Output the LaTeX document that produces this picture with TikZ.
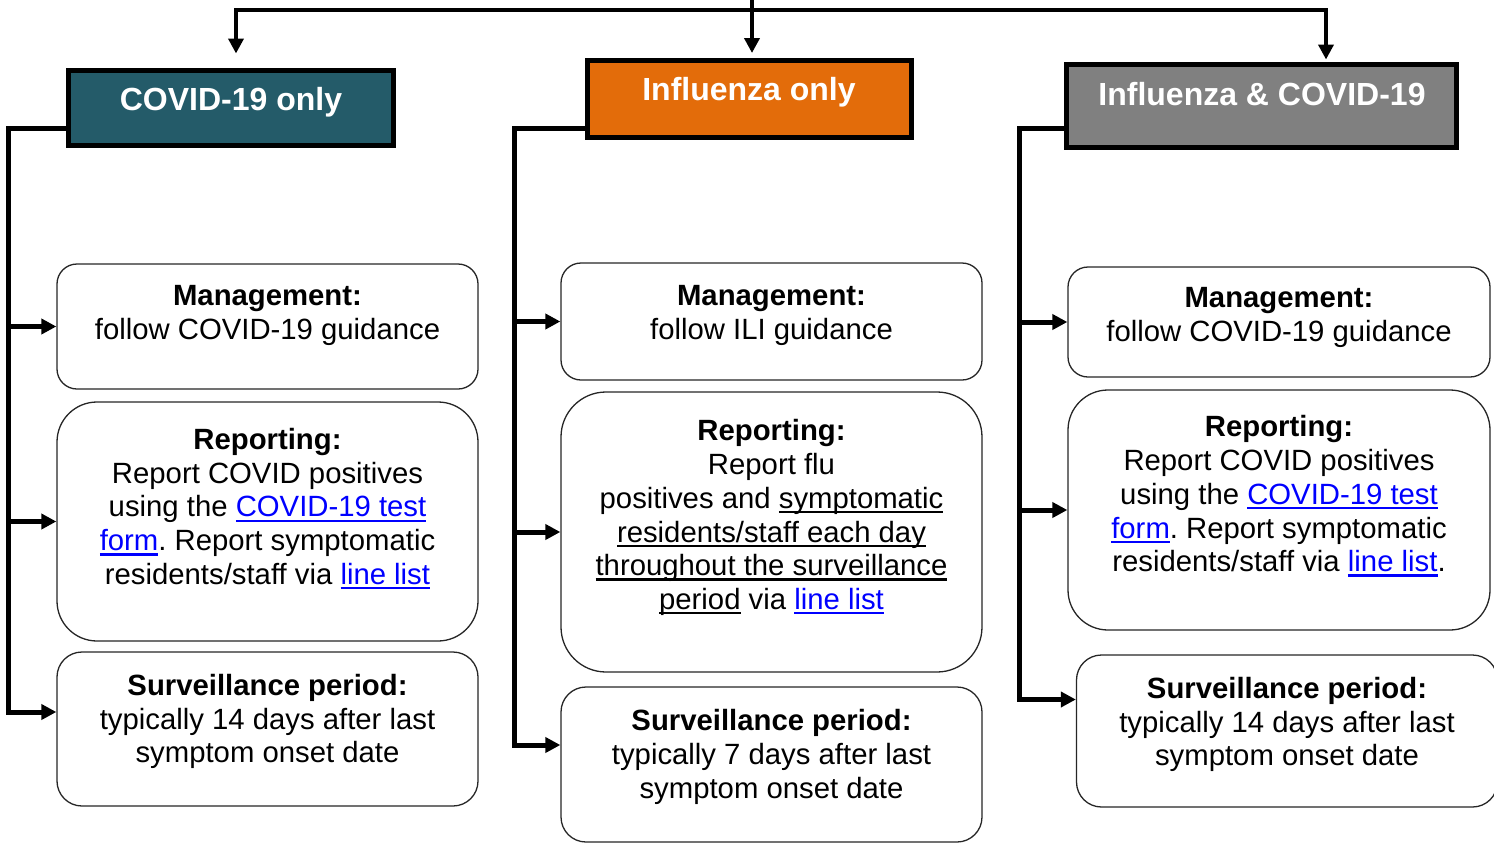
\documentclass[tikz,border=0pt]{standalone}
\usepackage{fontspec}
\setmainfont{Liberation Sans}
\usetikzlibrary{arrows.meta}
\definecolor{hteal}{HTML}{245B69}
\definecolor{horange}{HTML}{E36C0A}
\definecolor{hgray}{HTML}{808080}
\definecolor{linkblue}{HTML}{0000FF}
\newcommand{\uln}[1]{\setbox0\hbox{#1}\rlap{\rule[-5pt]{\wd0}{2.3pt}}\box0\relax}
\newcommand{\lnk}[1]{\textcolor{linkblue}{\uln{#1}}}
\frenchspacing
\begin{document}
\begin{tikzpicture}[x=1pt,y=-1pt,
  hdrbox/.style={rectangle, draw=black, line width=5pt, inner sep=0pt},
  hdrtext/.style={text=white, font=\fontsize{32}{38}\selectfont\bfseries, anchor=base, inner sep=0pt},
  infobox/.style={rectangle, draw=black!85, line width=1.3pt, fill=white, inner sep=0pt, minimum width=421pt},
  infotext/.style={font=\fontsize{29.3}{33.7}\selectfont\frenchspacing, align=center, anchor=north, inner sep=0pt},
  trunk/.style={line width=5pt, line join=miter},
  feed/.style={line width=4pt, line join=miter},
  arr/.style={-{Triangle[width=15pt,length=15pt]}}
]
\useasboundingbox (0,0) rectangle (1494,846);

% header boxes
\node[hdrbox, fill=hteal, minimum width=325pt, minimum height=75pt] (hdr1) at (231,108) {};
\node[hdrtext] (hdr1t) at (231,110) {COVID-19 only};
\node[hdrbox, fill=horange, minimum width=324pt, minimum height=77pt] (hdr2) at (749.5,99) {};
\node[hdrtext] (hdr2t) at (749,100) {Influenza only};
\node[hdrbox, fill=hgray, minimum width=390pt, minimum height=83pt] (hdr3) at (1261.5,106) {};
\node[hdrtext] (hdr3t) at (1262,105) {Influenza \& COVID-19};

% info boxes
\node[infobox, minimum height=125pt, rounded corners=20pt] (mg1) at (267.5,326.5) {};
\node[infobox, minimum height=239pt, rounded corners=40pt] (rp1) at (267.5,521.5) {};
\node[infobox, minimum height=154pt, rounded corners=25pt] (sv1) at (267.5,729) {};
\node[infobox, minimum height=117pt, rounded corners=20pt] (mg2) at (771.5,321.5) {};
\node[infobox, minimum height=280pt, rounded corners=45pt] (rp2) at (771.5,532) {};
\node[infobox, minimum height=155pt, rounded corners=25pt] (sv2) at (771.5,764.5) {};
\node[infobox, minimum width=422pt, minimum height=110pt, rounded corners=20pt] (mg3) at (1279,322) {};
\node[infobox, minimum width=422pt, minimum height=240pt, rounded corners=40pt] (rp3) at (1279,510) {};
\node[infobox, minimum height=152pt, rounded corners=25pt] (sv3) at (1287,731) {};

% texts
\node[infotext] (mg1t) at (267.5,285) {\textbf{Management:}\\follow COVID-19 guidance};
\node[infotext] (rp1t) at (267.5,428) {\textbf{Reporting:}\\Report COVID positives\\using the \lnk{COVID-19 test}\\\lnk{form}. Report symptomatic\\residents/staff via \lnk{line list}};
\node[infotext] (sv1t) at (267.5,674) {\textbf{Surveillance period:}\\typically 14 days after last\\symptom onset date};
\node[infotext] (mg2t) at (771.5,285) {\textbf{Management:}\\follow ILI guidance};
\node[infotext] (rp2t) at (771.5,419.5) {\textbf{Reporting:}\\Report flu\\positives and \uln{symptomatic}\\\uln{residents/staff each day}\\\uln{throughout the surveillance}\\\uln{period} via \lnk{line list}};
\node[infotext] (sv2t) at (771.5,709.5) {\textbf{Surveillance period:}\\typically 7 days after last\\symptom onset date};
\node[infotext] (mg3t) at (1279,287.5) {\textbf{Management:}\\follow COVID-19 guidance};
\node[infotext] (rp3t) at (1279,415.5) {\textbf{Reporting:}\\Report COVID positives\\using the \lnk{COVID-19 test}\\\lnk{form}. Report symptomatic\\residents/staff via \lnk{line list}.};
\node[infotext] (sv3t) at (1287,677) {\textbf{Surveillance period:}\\typically 14 days after last\\symptom onset date};

% top connectors
\coordinate (src) at (752,0);
\coordinate (barL) at (236,9.5);
\coordinate (barR) at (1326,9.5);
\draw[feed, arr, shorten >=5pt] (src) -- (src |- hdr2.north);
\draw[feed, {Triangle[width=15pt,length=15pt]}-{Triangle[width=15pt,length=15pt]}, shorten <=14.5pt, shorten >=2.5pt]
  (barL |- hdr1.north) -- (barL) -- (barR) -- (barR |- hdr3.north);

% trunks
\coordinate (t1) at (8,128.5);   \coordinate (b1) at (8,712);
\coordinate (t2) at (514,128.5); \coordinate (b2) at (514,745);
\coordinate (t3) at (1019.5,128.5); \coordinate (b3) at (1019.5,699.5);

\draw[trunk, arr] (hdr1.west |- t1) -- (t1) -- (b1) -- (sv1.west |- b1);
\draw[trunk, arr] (t1 |- mg1.west) -- (mg1.west);
\draw[trunk, arr] (t1 |- rp1.west) -- (rp1.west);

\draw[trunk, arr] (hdr2.west |- t2) -- (t2) -- (b2) -- (sv2.west |- b2);
\draw[trunk, arr] (t2 |- mg2.west) -- (mg2.west);
\draw[trunk, arr] (t2 |- rp2.west) -- (rp2.west);

\draw[trunk, arr] (hdr3.west |- t3) -- (t3) -- (b3) -- (sv3.west |- b3);
\draw[trunk, arr] (t3 |- mg3.west) -- (mg3.west);
\draw[trunk, arr] (t3 |- rp3.west) -- (rp3.west);
\end{tikzpicture}
\end{document}
